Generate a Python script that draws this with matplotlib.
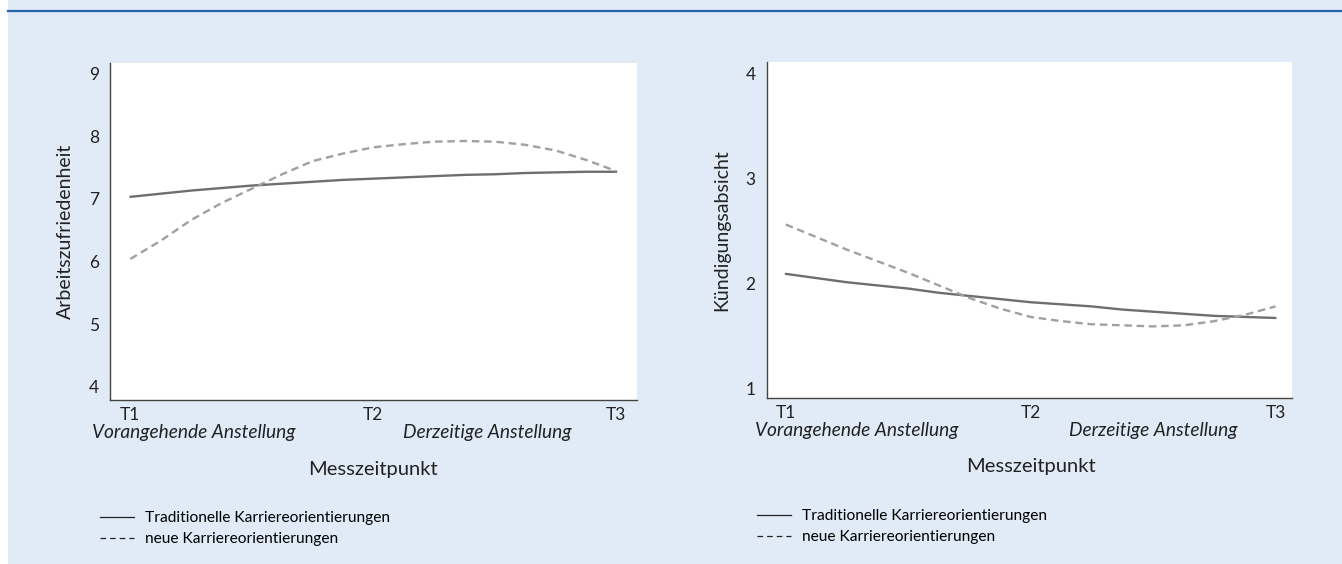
import matplotlib
matplotlib.use("Agg")
import matplotlib.pyplot as plt
from matplotlib.lines import Line2D
from matplotlib.patches import Rectangle

plt.rcParams["font.family"] = ["Lato", "DejaVu Sans"]

x_zeit = [1.0, 1.125, 1.25, 1.375, 1.5, 1.625, 1.75, 1.875, 2.0,
          2.125, 2.25, 2.375, 2.5, 2.625, 2.75, 2.875, 3.0]
x_ticks = [1, 2, 3]
x_ticklabels = ["T1", "T2", "T3"]

# Arbeitszufriedenheit
zuf_traditionell = [7.03, 7.08, 7.13, 7.17, 7.21, 7.24, 7.27, 7.30, 7.32,
                    7.34, 7.36, 7.38, 7.39, 7.41, 7.42, 7.43, 7.43]
zuf_neu = [6.04, 6.33, 6.66, 6.93, 7.16, 7.39, 7.60, 7.72, 7.82,
           7.87, 7.91, 7.92, 7.91, 7.86, 7.77, 7.62, 7.44]

# Kündigungsabsicht
kuend_traditionell = [2.09, 2.05, 2.01, 1.98, 1.95, 1.91, 1.88, 1.85, 1.82,
                      1.80, 1.78, 1.75, 1.73, 1.71, 1.69, 1.68, 1.67]
kuend_neu = [2.56, 2.44, 2.32, 2.21, 2.10, 1.98, 1.86, 1.76, 1.68,
             1.64, 1.61, 1.60, 1.59, 1.60, 1.64, 1.70, 1.78]

bg = "#e0ebf7"
fig = plt.figure(figsize=(13.42, 5.64), dpi=100, facecolor="white")
fig.patches.append(Rectangle((8 / 1342, 0), 1, 1, transform=fig.transFigure,
                             facecolor=bg, edgecolor="none", zorder=-10))
fig.add_artist(Line2D([8 / 1342, 1], [1 - 11 / 564, 1 - 11 / 564], transform=fig.transFigure,
                      color="#2466ad", lw=1.6))

ax1 = fig.add_axes([0.0823, 0.2908, 0.3921, 0.597])
ax2 = fig.add_axes([0.5713, 0.2943, 0.3914, 0.5963])

panels = [
    (ax1, zuf_traditionell, zuf_neu, "Arbeitszufriedenheit", (0.918, 3.084), (3.79, 9.16), [4, 5, 6, 7, 8, 9], 1.26, 2.47, -0.02),
    (ax2, kuend_traditionell, kuend_neu, "Kündigungsabsicht", (0.922, 3.067), (0.908, 4.11), [1, 2, 3, 4], 1.29, 2.50, -0.018),
]

for ax, trad, neu, ylabel, xlim, ylim, yticks, pos_vor, pos_der, leg_x in panels:
    ax.set_facecolor("white")
    ax.plot(x_zeit, trad, color="#6e6e6e", lw=1.7, solid_capstyle="round")
    ax.plot(x_zeit, neu, color="#a0a0a0", lw=1.7, dashes=(3.2, 2.0))
    ax.set_xlim(*xlim)
    ax.set_ylim(*ylim)
    ax.set_xticks(x_ticks)
    ax.set_xticklabels(x_ticklabels)
    ax.set_yticks(yticks)
    ax.tick_params(length=0, labelsize=12.5, colors="#222222", pad=8)
    ax.tick_params(axis="x", pad=5)
    for s in ["top", "right"]:
        ax.spines[s].set_visible(False)
    for s in ["left", "bottom"]:
        ax.spines[s].set_color("#444444")
        ax.spines[s].set_linewidth(1.0)
    ax.set_ylabel(ylabel, fontsize=14, color="#222222", labelpad=11)

    tr = ax.get_xaxis_transform()
    ax.text(pos_vor, -0.098, "Vorangehende Anstellung", transform=tr, ha="center", va="center",
            fontsize=13.8, style="italic", color="#222222")
    ax.text(pos_der, -0.098, "Derzeitige Anstellung", transform=tr, ha="center", va="center",
            fontsize=13.8, style="italic", color="#222222")
    ax.text(2.0, -0.205, "Messzeitpunkt", transform=tr, ha="center", va="center",
            fontsize=14.5, color="#222222")

    handles = [Line2D([], [], color="#222222", lw=0.9),
               Line2D([], [], color="#222222", lw=0.9, dashes=(4.5, 3.2))]
    ax.legend(handles, ["Traditionelle Karriereorientierungen", "neue Karriereorientierungen"],
              loc="upper left", bbox_to_anchor=(leg_x, -0.33), frameon=False,
              fontsize=11.2, handlelength=2.2, handletextpad=0.7, labelspacing=0.45,
              borderaxespad=0, borderpad=0)

fig.savefig("out.png", dpi=100, facecolor="white")
